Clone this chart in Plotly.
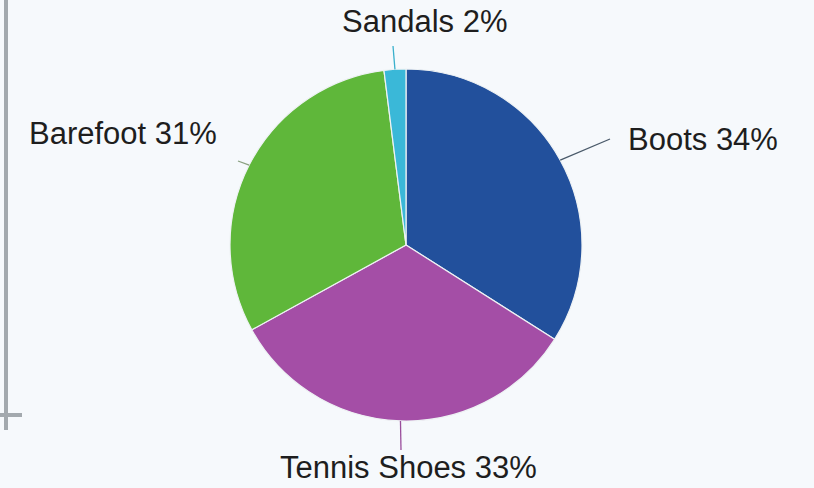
import math
import plotly.graph_objects as go

# ---- data ----
labels = ["Boots", "Tennis Shoes", "Barefoot", "Sandals"]
values = [34, 33, 31, 2]
colors = ["#22509c", "#a44ea6", "#5fb73a", "#3ab8d8"]

# ---- layout geometry (pixels) ----
W, H = 814, 488
CX, CY, R = 406, 245, 176

def px(x):
    return x / W

def py(y):
    return (H - y) / H

fig = go.Figure(go.Pie(
    labels=labels,
    values=values,
    sort=False,
    direction="clockwise",
    rotation=0,
    marker=dict(colors=colors, line=dict(color="#eef2f4", width=1.2)),
    textinfo="none",
    hoverinfo="label+percent",
    domain=dict(x=[px(CX - R), px(CX + R)], y=[py(CY + R), py(CY - R)]),
    showlegend=False,
))

# label placement style per slice: leader-line end and text anchor
label_style = {
    "Boots":        dict(lead=(610, 139), text=(626, 139), xanchor="left",  lc="#4a5a6a"),
    "Tennis Shoes": dict(lead=(401, 450), text=(408, 467), xanchor="center", lc="#9a4e9c"),
    "Barefoot":     dict(lead=(238, 161), text=(219, 133), xanchor="right", lc="#8aa080"),
    "Sandals":      dict(lead=(393, 46),  text=(424, 22),  xanchor="center", lc="#3ab0cc"),
}

total = sum(values)
cum = 0
shapes = []
annotations = []
for lab, val in zip(labels, values):
    mid = (cum + val / 2) / total * 2 * math.pi
    cum += val
    ex = CX + R * math.sin(mid)
    ey = CY - R * math.cos(mid)
    st = label_style[lab]
    lx, ly = st["lead"]
    shapes.append(dict(type="line", xref="paper", yref="paper",
                       x0=px(ex), y0=py(ey), x1=px(lx), y1=py(ly),
                       line=dict(color=st["lc"], width=1.3)))
    tx, ty = st["text"]
    pct = round(val / total * 100)
    annotations.append(dict(x=px(tx), y=py(ty), xref="paper", yref="paper",
                            text=f"{lab} {pct}%", showarrow=False,
                            xanchor=st["xanchor"], yanchor="middle",
                            font=dict(family="Liberation Sans, Arial, sans-serif",
                                      size=31, color="#1e1e1e")))

# page decoration: grey margin rule at left
shapes.append(dict(type="line", xref="paper", yref="paper",
                   x0=px(6), y0=py(0), x1=px(6), y1=py(430),
                   line=dict(color="#a3a9ae", width=4)))
shapes.append(dict(type="line", xref="paper", yref="paper",
                   x0=px(0), y0=py(415), x1=px(22), y1=py(415),
                   line=dict(color="#a3a9ae", width=4)))

fig.update_layout(
    width=W, height=H,
    margin=dict(l=0, r=0, t=0, b=0),
    paper_bgcolor="#f6f9fc",
    plot_bgcolor="#f6f9fc",
    shapes=shapes,
    annotations=annotations,
)

fig.write_html(
    "out.html",
    config={"displayModeBar": False},
    post_script="document.body.style.margin='0';document.body.style.background='#f6f9fc';",
)
